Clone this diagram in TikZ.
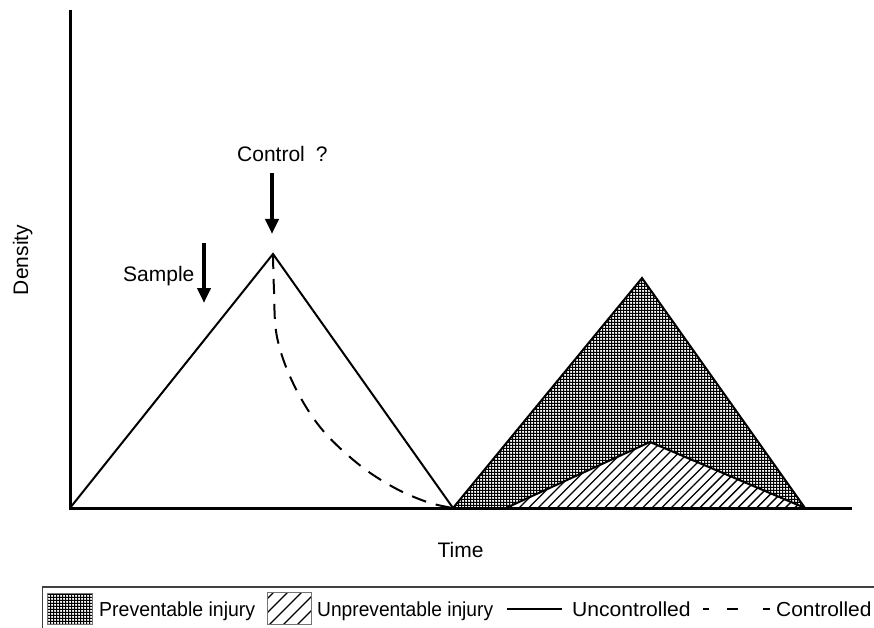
\documentclass[tikz,border=0pt]{standalone}
\usepackage{fontspec}
\setmainfont{Liberation Sans}
\usetikzlibrary{patterns,arrows.meta}

% horizontally squeeze or stretch a key entry
\newcommand\keyfit[2]{\scalebox{#1}[1]{#2}}

% dense dark grid with small white holes
\pgfdeclarepatternformonly{finegrid}{\pgfpointorigin}{\pgfqpoint{3.4pt}{3.4pt}}{\pgfqpoint{3.4pt}{3.4pt}}{%
  \pgfpathrectangle{\pgfpointorigin}{\pgfqpoint{3.4pt}{1.2pt}}%
  \pgfpathrectangle{\pgfpointorigin}{\pgfqpoint{1.2pt}{3.4pt}}%
  \pgfusepath{fill}}
% diagonal hatching for the area under the small peak
\pgfdeclarepatternformonly{widehatch}{\pgfqpoint{-1pt}{-1pt}}{\pgfqpoint{10.5pt}{10.5pt}}{\pgfqpoint{9.5pt}{9.5pt}}{%
  \pgfsetlinewidth{1.4pt}%
  \pgfpathmoveto{\pgfqpoint{0pt}{0pt}}%
  \pgfpathlineto{\pgfqpoint{9.6pt}{9.6pt}}%
  \pgfusepath{stroke}}
% wider hatching for the key swatch
\pgfdeclarepatternformonly{keyhatch}{\pgfqpoint{-1pt}{-1pt}}{\pgfqpoint{15pt}{15pt}}{\pgfqpoint{14pt}{14pt}}{%
  \pgfsetlinewidth{1.3pt}%
  \pgfpathmoveto{\pgfqpoint{0pt}{0pt}}%
  \pgfpathlineto{\pgfqpoint{14.1pt}{14.1pt}}%
  \pgfusepath{stroke}}

\begin{document}
\begin{tikzpicture}[x=1pt,y=-1pt,
  font=\fontsize{21}{25}\selectfont,
  axisline/.style={line width=3pt},
  curve/.style={line width=2pt, line join=miter},
  ctrlcurve/.style={line width=2pt, dash pattern=on 15pt off 10pt},
  pointer/.style={line width=4pt, -{Triangle[width=13pt,length=15pt]}},
  keyframe/.style={line width=1.5pt, draw=black!75},
  swatch/.style={line width=1pt, draw=black!55},
  label/.style={inner sep=0pt, anchor=base west},
  keytext/.style={label, font=\fontsize{20.3}{24}\selectfont}]
\useasboundingbox (0,0) rectangle (874,628);

% key points of the two peaks
\coordinate (O) at (70,508);
\coordinate (ytop) at (70,10);
\coordinate (xend) at (852,508);
\coordinate (p1) at (273,254);
\coordinate (v1) at (453,508);
\coordinate (p2) at (642,278);
\coordinate (e2) at (805,508);
\coordinate (h0) at (506,508);
\coordinate (h1) at (650,442);

% filled areas under the second peak
\fill[pattern=finegrid] (v1) -- (p2) -- (e2) -- cycle;
\fill[white] (h0) -- (h1) -- (e2) -- cycle;
\fill[pattern=widehatch] (h0) -- (h1) -- (e2) -- cycle;
\draw[curve] (h0) -- (h1) -- (e2);

% uncontrolled density
\draw[curve] (O) -- (p1) -- (v1) -- (p2) -- (e2);

% controlled density after the control action
\draw[ctrlcurve] plot[smooth, tension=0.6] coordinates
  {(273,254) (274,290) (277,337) (293,383) (320,427) (357,463) (393,487) (427,502) (453,508)};

% axes
\draw[axisline] (ytop) -- (O) -- (xend);

% arrows and labels
\coordinate (c0) at (272,173);
\coordinate (c1) at (272,234);
\draw[pointer] (c0) -- (c1);
\coordinate (s0) at (204,243);
\coordinate (s1) at (204,303);
\draw[pointer] (s0) -- (s1);

\node[label] (ctrl) at (237,162) {Control\hspace{11pt}?};
\node[label] (smp) at (123,281) {Sample};
\node[inner sep=0pt, anchor=base] (tlab) at (460.5,557) {Time};
\node[inner sep=0pt, anchor=base, rotate=90] (ylab) at (28,260) {Density};

% key
\coordinate (k0) at (874,587);
\coordinate (k1) at (42.5,587);
\coordinate (k2) at (42.5,628);
\draw[keyframe] (k0) -- (k1) -- (k2);

\fill[pattern=finegrid] (47,593) rectangle (92,624);
\draw[swatch] (47,593) rectangle (92,624);
\node[keytext] (kprev) at (99,616) {\keyfit{0.96}{Preventable injury}};

\fill[pattern=keyhatch] (267,592) rectangle (311,624);
\draw[swatch] (267,592) rectangle (311,624);
\node[keytext] (kunprev) at (317,616) {\keyfit{0.945}{Unpreventable injury}};

\coordinate (l0) at (507,609);
\coordinate (l1) at (562,609);
\draw[line width=2.5pt] (l0) -- (l1);
\node[keytext] (kunc) at (572,616) {\keyfit{1.04}{Uncontrolled}};

\coordinate (d0) at (703,609);
\coordinate (d1) at (709,609);
\coordinate (d2) at (727,609);
\coordinate (d3) at (738,609);
\coordinate (d4) at (763,609);
\coordinate (d5) at (770,609);
\draw[line width=2.5pt] (d0) -- (d1) (d2) -- (d3) (d4) -- (d5);
\node[keytext] (kctrl) at (776,616) {\keyfit{1.03}{Controlled}};
\end{tikzpicture}
\end{document}
